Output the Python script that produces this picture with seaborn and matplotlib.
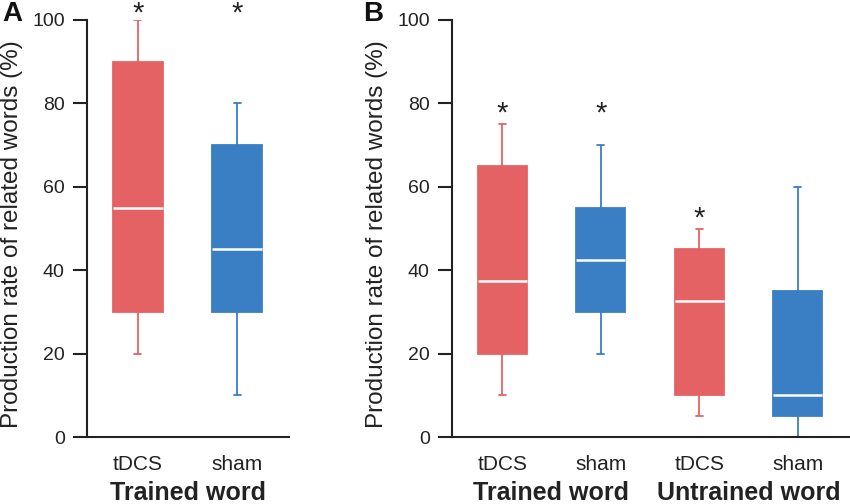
import numpy as np
import pandas as pd
import matplotlib
matplotlib.use("Agg")
import matplotlib.pyplot as plt
import seaborn as sns

# ---- data (five-number summaries, %) ----
a_conditions = ["tDCS", "sham"]
a_min = [20, 10]
a_q1 = [30, 30]
a_med = [55, 45]
a_q3 = [90, 70]
a_max = [100, 80]
a_stars = [101.5, 101.5]

b_groups = ["Trained word", "Trained word", "Untrained word", "Untrained word"]
b_conditions = ["tDCS", "sham", "tDCS", "sham"]
b_min = [10, 20, 5, 0]
b_q1 = [20, 30, 10, 5]
b_med = [37.5, 42.5, 32.5, 10]
b_q3 = [65, 55, 45, 35]
b_max = [75, 70, 50, 60]
b_stars = [77.5, 77.5, 52.5, None]

y_ticks = [0, 20, 40, 60, 80, 100]
y_label = "Production rate of related words (%)"

RED = "#E56264"
BLUE = "#3A7EC4"
colors = {"tDCS": RED, "sham": BLUE}

sns.set_theme(style="ticks")
plt.rcParams["font.family"] = ["Liberation Sans", "DejaVu Sans"]


def long_frame(keys, mins, q1s, meds, q3s, maxs):
    rows = []
    for k, a, b, c, d, e in zip(keys, mins, q1s, meds, q3s, maxs):
        for v in (a, b, c, d, e):
            rows.append({"key": k, "value": v})
    return pd.DataFrame(rows)


fig = plt.figure(figsize=(8.5, 5.04), dpi=100)
axA = fig.add_axes([87 / 850, 1 - 437 / 504, (289 - 87) / 850, (437 - 20) / 504])
axB = fig.add_axes([452 / 850, 1 - 437 / 504, (849 - 452) / 850, (437 - 20) / 504])


def draw(ax, keys, conds, mins, q1s, meds, q3s, maxs, stars):
    df = long_frame(keys, mins, q1s, meds, q3s, maxs)
    pal = {k: colors[c] for k, c in zip(keys, conds)}
    sns.boxplot(data=df, x="key", y="value", hue="key", palette=pal, order=keys,
                hue_order=keys, whis=(0, 100), width=0.5, linewidth=1.3,
                saturation=1, legend=False, showfliers=False, ax=ax,
                medianprops=dict(color="white", linewidth=1.8))
    for i, cont in enumerate(ax.containers):
        col = pal[keys[i]]
        for box in cont.boxes:
            box.set_edgecolor(col)
            box.set_facecolor(col)
        for w in cont.whiskers:
            w.set_color(col)
        for cap in cont.caps:
            cap.set_color(col)
            xd = cap.get_xdata()
            cx = np.mean(xd)
            cap.set_xdata([cx - 0.035, cx + 0.035])
        for m in cont.medians:
            m.set_color("white")
    for i, s in enumerate(stars):
        if s is not None:
            ax.text(i, s, "*", ha="center", va="center", fontsize=21,
                    color="#222222", clip_on=False)
    ax.set_ylim(0, 100)
    ax.set_xlim(-0.51, len(keys) - 1 + 0.52)
    ax.set_yticks(y_ticks)
    ax.set_xticks(range(len(keys)))
    ax.set_xticklabels(conds)
    ax.tick_params(axis="x", length=0, pad=13, labelsize=15, colors="#222222")
    ax.tick_params(axis="y", length=10, width=1.5, pad=6, labelsize=14,
                   colors="#222222")
    ax.set_xlabel("")
    ax.set_ylabel(y_label, fontsize=17.5, color="#222222")
    for sp in ["top", "right"]:
        ax.spines[sp].set_visible(False)
    for sp in ["left", "bottom"]:
        ax.spines[sp].set_linewidth(1.5)
        ax.spines[sp].set_color("#222222")


keysA = ["A_" + c for c in a_conditions]
draw(axA, keysA, a_conditions, a_min, a_q1, a_med, a_q3, a_max, a_stars)
keysB = [g + "_" + c for g, c in zip(b_groups, b_conditions)]
draw(axB, keysB, b_conditions, b_min, b_q1, b_med, b_q3, b_max, b_stars)
axA.yaxis.set_label_coords(-64 / 202, 0.487)
axB.yaxis.set_label_coords(-64 / 397, 0.487)

# group labels
axA.text(0.5, -0.135, "Trained word", transform=axA.get_xaxis_transform(),
         ha="center", va="center", fontsize=18, fontweight="bold", color="#222222")
uniq = []
for g in b_groups:
    if g not in uniq:
        uniq.append(g)
for g in uniq:
    idx = [i for i, gg in enumerate(b_groups) if gg == g]
    axB.text(np.mean(idx), -0.135, g, transform=axB.get_xaxis_transform(),
             ha="center", va="center", fontsize=18, fontweight="bold",
             color="#222222")

fig.text(2 / 850, 1 - 1 / 504, "A", fontsize=20, fontweight="bold",
         ha="left", va="top", color="#111111")
fig.text(363 / 850, 1 - 1 / 504, "B", fontsize=20, fontweight="bold",
         ha="left", va="top", color="#111111")

fig.savefig("out.png", dpi=100)
